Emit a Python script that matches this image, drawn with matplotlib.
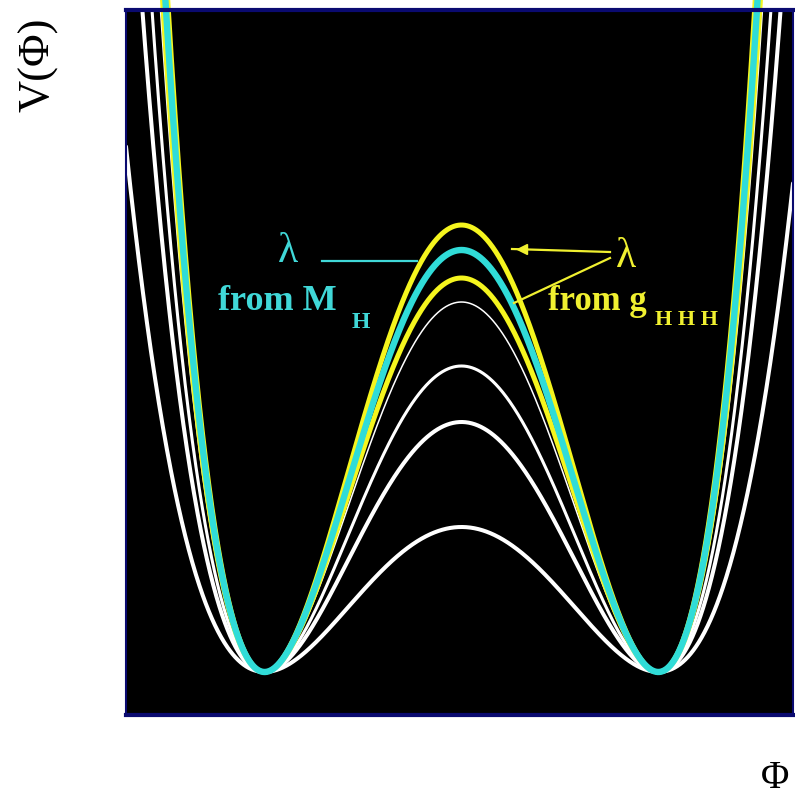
import numpy as np
import matplotlib
matplotlib.use("Agg")
import matplotlib.pyplot as plt
from matplotlib.lines import Line2D
from matplotlib.patches import Rectangle

# ---- data (peak heights of the double-well V = lam*(phi^2 - v^2)^2) ----
vev = 1.0
lam_white = [145, 250, 306, 370]
lw_white = [2.9, 2.9, 2.2, 1.1]
lam_yellow = [394, 447]
lam_cyan = [422]
phi_range = (-1.704, 1.684)
v_range = (-43, 662)

W, H = 795, 796
fig = plt.figure(figsize=(W / 100, H / 100), dpi=100)
fig.patch.set_facecolor("white")

def fx(px):
    return px / W

def fy(py):
    return 1 - py / H

ax = fig.add_axes([fx(126), fy(715), fx(793) - fx(126), fy(10) - fy(715)])
ax.set_facecolor("black")
ax.set_xlim(*phi_range)
ax.set_ylim(*v_range)
ax.set_xticks([])
ax.set_yticks([])
for s in ["top", "bottom"]:
    ax.spines[s].set_color("#0a0a70")
    ax.spines[s].set_linewidth(3)
for s in ["left", "right"]:
    ax.spines[s].set_color("#0a0a70")
    ax.spines[s].set_linewidth(1.5)

phi = np.linspace(phi_range[0], phi_range[1], 1500)
clip = Rectangle((0, 0), 1, 1.014, transform=ax.transAxes)

def well(lam):
    return lam * (phi ** 2 - vev ** 2) ** 2

for lam, lw in zip(lam_white, lw_white):
    ln, = ax.plot(phi, well(lam), color="white", lw=lw, solid_capstyle="round")
    ln.set_clip_path(clip)
for lam in lam_yellow:
    ln, = ax.plot(phi, well(lam), color="#f5f51e", lw=3.6)
    ln.set_clip_path(clip)
for lam in lam_cyan:
    ln, = ax.plot(phi, well(lam), color="#30dcd8", lw=4.6)
    ln.set_clip_path(clip)

serif = ["Liberation Serif", "DejaVu Serif"]
cyan = "#40d8d8"
yellow = "#f0f030"

# cyan annotation
fig.text(fx(278), fy(262), "λ", color=cyan, fontsize=30, family=serif, ha="left", va="baseline")
fig.text(fx(218), fy(310), "from M", color=cyan, fontsize=26, family=serif, weight="bold", ha="left", va="baseline")
fig.text(fx(352), fy(328), "H", color=cyan, fontsize=17, family=serif, weight="bold", ha="left", va="baseline")
fig.add_artist(Line2D([fx(322), fx(417)], [fy(261), fy(261)], color=cyan, lw=1.6, transform=fig.transFigure))

# yellow annotation
fig.text(fx(616), fy(267), "λ", color=yellow, fontsize=30, family=serif, ha="left", va="baseline")
fig.text(fx(548), fy(310), "from g", color=yellow, fontsize=25, family=serif, weight="bold", ha="left", va="baseline")
fig.text(fx(655), fy(325), "H H H", color=yellow, fontsize=16, family=serif, weight="bold", ha="left", va="baseline")
fig.add_artist(Line2D([fx(512), fx(610)], [fy(249), fy(252)], color=yellow, lw=1.6, transform=fig.transFigure))
fig.add_artist(Line2D([fx(610), fx(514)], [fy(258), fy(303)], color=yellow, lw=1.6, transform=fig.transFigure))
fig.add_artist(Line2D([fx(522)], [fy(249)], marker="<", markersize=7, color=yellow, lw=0, transform=fig.transFigure))

# axis labels
fig.text(fx(38), fy(65), "V(Φ)", color="black", fontsize=32, family=serif, rotation=90, ha="center", va="center")
fig.text(fx(775), fy(778), "Φ", color="black", fontsize=28, family=serif, ha="center", va="center")

fig.savefig("out.png", dpi=100, facecolor="white")
